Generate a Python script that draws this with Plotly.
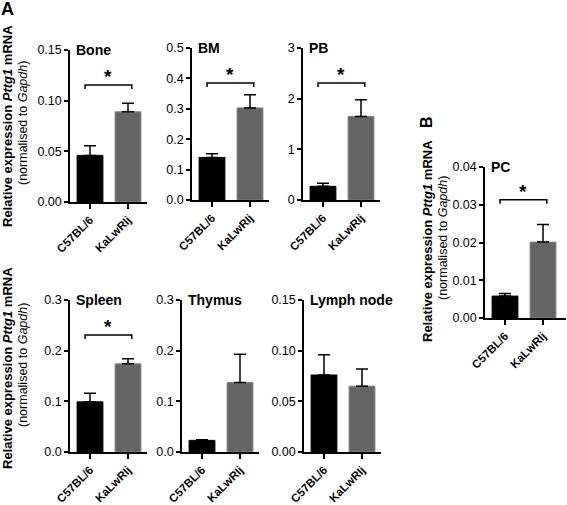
import plotly.graph_objects as go

W, H = 567, 505

categories = ["C57BL/6", "KaLwRIj"]

panel_names = ["Bone", "BM", "PB", "Spleen", "Thymus", "Lymph node", "PC"]
mean_bone = [0.046, 0.089]
err_bone = [0.0095, 0.0085]
mean_bm = [0.140, 0.303]
err_bm = [0.012, 0.043]
mean_pb = [0.27, 1.65]
err_pb = [0.06, 0.33]
mean_spleen = [0.099, 0.174]
err_spleen = [0.017, 0.010]
mean_thymus = [0.023, 0.137]
err_thymus = [0.001, 0.056]
mean_lymph = [0.076, 0.065]
err_lymph = [0.020, 0.017]
mean_pc = [0.0058, 0.0201]
err_pc = [0.0007, 0.0047]

y_max = [0.15, 0.5, 3, 0.3, 0.3, 0.15, 0.04]
y_dtick = [0.05, 0.1, 1, 0.1, 0.1, 0.05, 0.01]
y_fmt = [".2f", ".1f", "d", ".1f", ".1f", ".2f", ".2f"]
sig_level = [0.1155, 0.385, 2.31, 0.231, None, None, 0.0313]

means = [mean_bone, mean_bm, mean_pb, mean_spleen, mean_thymus, mean_lymph, mean_pc]
errs = [err_bone, err_bm, err_pb, err_spleen, err_thymus, err_lymph, err_pc]

# pixel boxes of plot areas: (x0, x1, ytop, ybottom)
boxes = [
    (70, 147, 50, 202),
    (192, 269, 48, 200),
    (303, 380, 48, 200),
    (70, 147, 300, 452),
    (182, 259, 300, 452),
    (304, 381, 300, 452),
    (485, 566, 167, 318),
]

bar_colors = ["#000000", "#646464"]
FONT = "Liberation Sans, Arial, sans-serif"

fig = go.Figure()
layout = dict(
    width=W, height=H, margin=dict(l=0, r=0, t=0, b=0, pad=0),
    plot_bgcolor="white", paper_bgcolor="white", showlegend=False,
    font=dict(family=FONT, color="black"),
)
shapes = []
annotations = []

for i, (name, m, e, box) in enumerate(zip(panel_names, means, errs, boxes)):
    k = "" if i == 0 else str(i + 1)
    x0, x1, yt, yb = box
    xr_px = 38.0
    # category positions 0 and 1, left gap ~20px
    xmin = -20.0 / xr_px
    xmax = 1 + (x1 - x0 - 20 - xr_px) / xr_px
    fig.add_trace(go.Bar(
        x=[0, 1], y=m,
        marker=dict(color=bar_colors, line=dict(color=["#000000", "#808080"], width=1)),
        width=0.68,
        error_y=dict(type="data", symmetric=False, array=e, arrayminus=[0, 0],
                     color="black", thickness=1.5, width=6),
        xaxis="x" + k, yaxis="y" + k, hoverinfo="skip",
    ))
    layout["xaxis" + k] = dict(
        domain=[x0 / W, x1 / W], anchor="y" + k, range=[xmin, xmax],
        tickmode="array", tickvals=[0, 1], ticktext=categories, tickangle=-45,
        ticks="outside", ticklen=5, tickwidth=1.5, tickcolor="black",
        showline=True, linecolor="black", linewidth=1.5, showgrid=False, zeroline=False,
        tickfont=dict(family=FONT, size=11.5, color="black", weight="bold"),
        fixedrange=True, automargin=False,
    )
    layout["yaxis" + k] = dict(
        domain=[1 - yb / H, 1 - yt / H], anchor="x" + k, range=[0, y_max[i]],
        dtick=y_dtick[i], tick0=0, tickformat=y_fmt[i],
        ticks="outside", ticklen=4, tickwidth=1.5, tickcolor="black",
        showline=True, linecolor="black", linewidth=1.5, showgrid=False, zeroline=False,
        tickfont=dict(family=FONT, size=12.5, color="black"),
        fixedrange=True, automargin=False,
    )
    # panel title
    annotations.append(dict(
        x=(x0 + 4) / W, y=1 - yt / H, xref="paper", yref="paper",
        text="<b>" + name + "</b>", showarrow=False, xanchor="left", yanchor="middle",
        font=dict(family=FONT, size=14, color="black"),
    ))
    s = sig_level[i]
    if s is not None:
        drop = y_max[i] * 4.0 / (yb - yt)
        xs = "x" + k
        ys = "y" + k
        path = f"M -0.13,{s - drop} L -0.13,{s} L 1.1,{s} L 1.1,{s - drop}"
        shapes.append(dict(type="path", path=path, xref=xs, yref=ys,
                           line=dict(color="black", width=1.5)))
        annotations.append(dict(
            x=0.485, y=s, xref=xs, yref=ys, text="<b>*</b>", showarrow=False,
            xanchor="center", yanchor="bottom", yshift=-4,
            font=dict(family=FONT, size=19, color="black"),
        ))

# y-axis titles
def ytitle(xb, xn, yc, sb, sn):
    annotations.append(dict(
        x=xb / W, y=1 - yc / H, xref="paper", yref="paper", textangle=-90,
        text="<b>Relative expression <i>Pttg1</i> mRNA</b>", showarrow=False,
        xanchor="center", yanchor="middle", font=dict(family=FONT, size=sb, color="black"),
    ))
    annotations.append(dict(
        x=xn / W, y=1 - (yc - 3) / H, xref="paper", yref="paper", textangle=-90,
        text="(normalised to <i>Gapdh</i>)", showarrow=False,
        xanchor="center", yanchor="middle", font=dict(family=FONT, size=sn, color="black"),
    ))

ytitle(7, 23, 126, 13, 12.5)
ytitle(7, 23, 368, 13, 12.5)
ytitle(427, 443, 241, 13, 12.5)

annotations.append(dict(
    x=0, y=1, xref="paper", yref="paper", text="<b>A</b>", showarrow=False,
    xanchor="left", yanchor="top", yshift=3, xshift=-1,
    font=dict(family=FONT, size=18, color="black"),
))
annotations.append(dict(
    x=426 / W, y=1 - 122 / H, xref="paper", yref="paper", text="<b>B</b>", textangle=-90,
    showarrow=False, xanchor="center", yanchor="middle",
    font=dict(family=FONT, size=16, color="black"),
))

layout["shapes"] = shapes
layout["annotations"] = annotations
fig.update_layout(**layout)
fig.write_html(
    "out.html",
    config={"displayModeBar": False},
    post_script="document.body.style.margin='0';document.body.style.overflow='hidden';",
)
